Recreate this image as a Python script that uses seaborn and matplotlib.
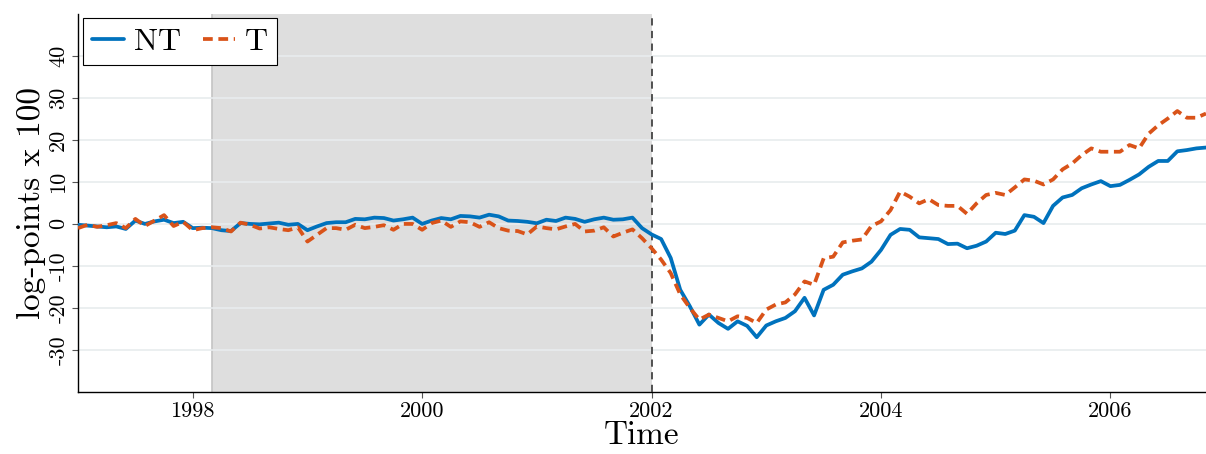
import numpy as np
import pandas as pd
import matplotlib
matplotlib.use("Agg")
import matplotlib.pyplot as plt
import seaborn as sns

# monthly data, Jan 1997 .. Nov 2006
start_year = 1997
nt_values = [-0.2, -0.4, -0.6, -0.8, -0.6, -1.2, 0.8, 0.0, 0.6, 1.0, 0.2, 0.5,
             -1.0, -0.9, -1.0, -1.5, -1.7, 0.2, 0.0, -0.1, 0.1, 0.3, -0.2, 0.0,
             -1.5, -0.6, 0.2, 0.4, 0.4, 1.2, 1.1, 1.5, 1.4, 0.8, 1.1, 1.5,
             0.0, 0.8, 1.4, 1.1, 1.9, 1.8, 1.5, 2.2, 1.8, 0.8, 0.7, 0.5,
             0.15, 1.0, 0.7, 1.5, 1.2, 0.5, 1.1, 1.5, 1.0, 1.1, 1.5, -1.0,
             -2.5, -3.6, -8.1, -15.7, -19.6, -24.0, -21.6, -23.6, -25.0, -23.2, -24.3, -27.0,
             -24.2, -23.2, -22.4, -20.8, -17.6, -21.8, -15.7, -14.5, -12.1, -11.3, -10.6, -9.0,
             -6.2, -2.6, -1.2, -1.4, -3.2, -3.4, -3.6, -4.8, -4.7, -5.8, -5.2, -4.2,
             -2.1, -2.4, -1.6, 2.1, 1.7, 0.2, 4.3, 6.3, 6.9, 8.5, 9.4, 10.2,
             9.0, 9.3, 10.5, 11.8, 13.6, 15.0, 15.0, 17.3, 17.6, 18.0, 18.2]
t_values = [-1.0, -0.2, -0.7, -0.3, 0.2, -1.0, 1.2, -0.5, 0.8, 2.1, -0.5, 0.5,
            -1.5, -1.0, -0.8, -1.0, -1.8, 0.3, -0.2, -1.1, -0.8, -1.2, -1.5, -0.8,
            -4.2, -2.6, -1.0, -1.0, -1.4, -0.2, -1.0, -0.7, -0.3, -1.4, 0.0, 0.0,
            -1.4, 0.2, 0.8, -0.7, 0.6, 0.4, -0.7, 0.4, -1.0, -1.6, -1.7, -2.5,
            -0.6, -1.0, -1.3, -0.6, 0.0, -1.8, -1.6, -0.8, -3.0, -2.1, -1.3, -3.4,
            -5.8, -8.5, -11.7, -16.8, -20.0, -22.8, -21.6, -22.4, -23.2, -22.0, -22.4, -23.6,
            -20.4, -19.2, -18.7, -16.8, -13.7, -14.5, -8.2, -7.8, -4.4, -4.0, -3.7, -0.5,
            0.6, 3.3, 7.7, 6.5, 4.9, 5.9, 4.5, 4.3, 4.3, 2.4, 4.9, 6.9,
            7.4, 6.9, 8.7, 10.6, 10.3, 9.4, 10.6, 13.0, 14.4, 16.4, 18.0, 17.2,
            17.2, 17.2, 18.8, 18.0, 21.5, 23.5, 25.1, 26.9, 25.3, 25.3, 26.3]
series_names = ["NT", "T"]
shade_start, shade_end = 1998 + 2 / 12, 2002.0
x_ticks = [1998, 2000, 2002, 2004, 2006]
y_ticks = [-30, -20, -10, 0, 10, 20, 30, 40]
y_tick_labels = ["-30", "-20", "-10", "0", "10", "20", "30", "40"]

time = start_year + np.arange(len(nt_values)) / 12.0
df = pd.DataFrame({
    "Time": np.concatenate([time, time]),
    "value": nt_values + t_values,
    "series": ["NT"] * len(nt_values) + ["T"] * len(t_values),
})

sns.set_theme(style="white")
plt.rcParams["font.family"] = ["cmr10", "DejaVu Serif"]
plt.rcParams["mathtext.fontset"] = "cm"
plt.rcParams["axes.unicode_minus"] = False
plt.rcParams["axes.formatter.use_mathtext"] = True
for k in ["text.color", "axes.labelcolor", "xtick.color", "ytick.color"]:
    plt.rcParams[k] = "black"

fig = plt.figure(figsize=(12.06, 4.54), dpi=100)
ax = fig.add_axes([0.0647, 0.137, 0.9353, 0.832])

colors = {"NT": "#0072BD", "T": "#D95319"}
ax.axvspan(shade_start, shade_end, color="#dedede", zorder=0, lw=0)
ax.axvline(shade_start, color="#c4c4c4", lw=1.2, zorder=0.2)
ax.axvline(shade_end, color="#444444", lw=1.3, ls=(0, (4, 3)), zorder=3)

sns.lineplot(data=df[df.series == "NT"], x="Time", y="value", ax=ax,
             color=colors["NT"], lw=2.7, label="NT", zorder=4)
sns.lineplot(data=df[df.series == "T"], x="Time", y="value", ax=ax,
             color=colors["T"], lw=2.7, ls=(0, (2.6, 1.5)), label="T", zorder=4)

ax.set_xlim(time[0], time[-1])
ax.set_ylim(-40, 50)
ax.set_xticks(x_ticks)
ax.set_xticklabels([str(v) for v in x_ticks], fontsize=16)
ax.set_yticks(y_ticks)
ax.set_yticklabels(y_tick_labels, fontsize=16, rotation=90, va="center")
ax.yaxis.grid(True, color="#e8ecee", lw=1.2)
ax.xaxis.grid(False)
ax.set_axisbelow(True)
for s in ["top", "right"]:
    ax.spines[s].set_visible(False)
for s in ["left", "bottom"]:
    ax.spines[s].set_color("black")
    ax.spines[s].set_linewidth(1.0)
ax.tick_params(axis="both", direction="out", length=4, width=0.8, color="#555555",
               left=True, bottom=True, pad=3)
ax.set_xlabel("Time", fontsize=24, labelpad=0)
ax.set_ylabel("log-points x 100", fontsize=24, labelpad=2)

leg = ax.legend(loc="upper left", ncol=2, fontsize=23, frameon=True, fancybox=False,
                edgecolor="black", framealpha=1.0, handlelength=1.0, columnspacing=0.7,
                handletextpad=0.3, borderpad=0.3, borderaxespad=0,
                bbox_to_anchor=(0.004, 0.99))
leg.get_frame().set_linewidth(0.8)
leg.set_zorder(10)

fig.savefig("out.png", dpi=100)
